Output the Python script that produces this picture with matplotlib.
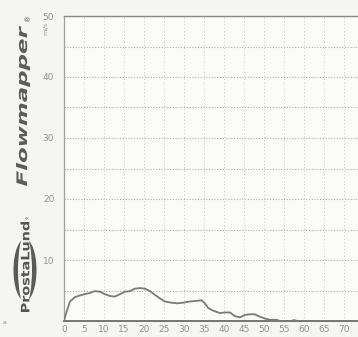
"""Uroflow chart (Flowmapper printout) redrawn with matplotlib."""

import matplotlib
matplotlib.use("Agg")
import matplotlib.pyplot as plt
from matplotlib.font_manager import FontProperties
from matplotlib.patches import Ellipse, PathPatch
from matplotlib.textpath import TextPath
from matplotlib.transforms import Affine2D

# flow curve (time s, flow ml/s)
time_s = [0, 0.4, 0.8, 1.5, 2.7, 4.0, 5.2, 6.5, 7.7, 9.0, 10.2, 11.5, 12.7,
          14.0, 15.2, 16.5, 17.7, 19.0, 20.2, 21.5, 22.7, 24.0, 25.2, 26.9,
          28.2, 29.8, 31.5, 33.2, 34.4, 35.2, 36.1, 37.3, 39.0, 40.2, 41.5,
          42.7, 44.0, 45.2, 46.5, 47.7, 49.0, 50.2, 51.5, 53.2, 54.0, 56.8,
          57.5, 58.3, 74.0]
flow_mls = [0, 1.0, 1.8, 3.2, 3.9, 4.2, 4.4, 4.6, 4.9, 4.8, 4.4, 4.1, 4.0,
            4.4, 4.8, 4.9, 5.3, 5.4, 5.3, 4.9, 4.3, 3.7, 3.2, 3.0,
            2.9, 3.0, 3.2, 3.3, 3.4, 2.9, 2.1, 1.7, 1.3, 1.4, 1.4,
            0.8, 0.6, 1.0, 1.1, 1.1, 0.7, 0.4, 0.2, 0.2, 0.0, 0.0,
            0.15, 0.0, 0.0]
x_ticks = list(range(0, 75, 5))
y_ticks = [10, 20, 30, 40, 50]

W, H = 358, 337
BG = "#f5f5f3"
fig = plt.figure(figsize=(W / 100, H / 100), dpi=100, facecolor=BG)


def vertical_word(text, xc, y_bottom, length, height, color, prop):
    # rotated word squeezed into a box given in pixels (origin top-left)
    tp = TextPath((0, 0), text, size=10, prop=prop)
    bb = tp.get_extents()
    tr = (Affine2D()
          .translate(-bb.x0, -bb.y0 - bb.height / 2)
          .scale(length / bb.width, height / bb.height)
          .rotate_deg(90)
          .translate(xc, H - y_bottom))
    fig.add_artist(PathPatch(tp, transform=tr, facecolor=color,
                             edgecolor="none"))


# plot area: x=0 at px 64, 4 px per second; y=0 at px 321, 6.1 px per ml/s
ax = fig.add_axes([64 / W, 16 / H, (W - 64) / W, 305 / H])
ax.set_facecolor("#fbfbfa")
ax.set_xlim(0, (W - 64) / 4)
ax.set_ylim(0, 50)

for v in range(5, 75, 5):
    ax.axvline(v, color="#c4c4c4", lw=0.7, ls=(0, (1, 2.5)), zorder=1)
for v in range(5, 50, 5):
    ax.axhline(v, color="#adadad", lw=0.8, ls=(0, (1, 1.5)), zorder=1)

ax.plot(time_s, flow_mls, color="#7a7a7a", lw=1.3, zorder=3)

ax.spines["right"].set_visible(False)
ax.spines["top"].set_color("#8a8a8a")
ax.spines["top"].set_linewidth(1.0)
ax.spines["bottom"].set_color("#6a6a6a")
ax.spines["bottom"].set_linewidth(1.3)
ax.spines["left"].set_color("#a0a0a0")
ax.spines["left"].set_linewidth(0.9)

tick_font = ["Liberation Sans Narrow", "DejaVu Sans"]
ax.set_xticks(x_ticks)
ax.set_xticklabels([str(t) for t in x_ticks], family=tick_font,
                   fontsize=6.5, color="#929292")
ax.set_yticks(y_ticks)
ax.set_yticklabels([str(t) for t in y_ticks], family=tick_font,
                   fontsize=6.5, color="#929292")
ax.tick_params(axis="x", length=0, pad=3)
ax.tick_params(axis="y", length=0, pad=7)

# unit label on the left margin
fig.text(45 / W, 1 - 28 / H, "ml/s", rotation=90, fontsize=4.5,
         color="#9a9a9a", ha="center", va="center")

bold_it = FontProperties(family="DejaVu Sans", weight="bold", style="italic")
bold = FontProperties(family="DejaVu Sans", weight="bold")

# Flowmapper brand
vertical_word("Flowmapper", 23, 186, 160, 14, "#5c5c5c", bold_it)
fig.text(28 / W, 1 - 17 / H, "\u00ae", rotation=90, fontsize=5,
         color="#5c5c5c", ha="center", va="center")

# ProstaLund logo: two crescents around the rotated name
cx, cy = 25 / W, 1 - 270 / H
fig.add_artist(Ellipse((cx, cy), 23 / W, 62 / H, transform=fig.transFigure,
                       facecolor="#5a5a5a", edgecolor="none"))
fig.add_artist(Ellipse((cx, cy), 14 / W, 70 / H, transform=fig.transFigure,
                       facecolor=BG, edgecolor="none"))
vertical_word("ProstaLund", 25, 312, 90, 9, "#555555", bold)
fig.text(30 / W, 1 - 217 / H, "\u00b0", rotation=90, fontsize=5,
         color="#555555", ha="center", va="center")

fig.text(5 / W, 1 - 323 / H, "a", fontsize=4.5, color="#8a8a8a",
         ha="center", va="center")

fig.savefig("out.png", dpi=100, facecolor=fig.get_facecolor())
